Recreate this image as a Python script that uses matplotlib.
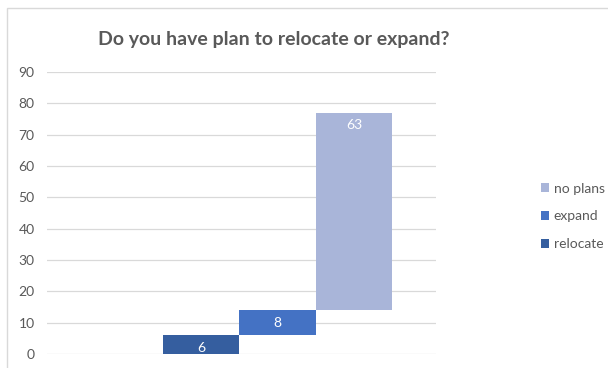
import matplotlib.pyplot as plt
from matplotlib.patches import Rectangle, Patch

# survey answers, drawn as a floating (waterfall style) column chart
categories = ["relocate", "expand", "no plans"]
counts = [6, 8, 63]
colors = ["#355E9F", "#4472C4", "#A9B5D9"]

plt.rcParams["font.family"] = ["Lato", "DejaVu Sans"]
text_gray = "#595959"

fig = plt.figure(figsize=(6.08, 3.68), dpi=100)
W, H = 608, 368

# chart frame
fig.patches.append(Rectangle((7 / W, -0.1), 1.0, (H - 8) / H + 0.1,
                             transform=fig.transFigure, fill=False,
                             edgecolor="#D9D9D9", linewidth=1.0))

ax = fig.add_axes([47 / W, (H - 354) / H, (436 - 47) / W, (354 - 72) / H])

bottoms = []
running = 0
for c in counts:
    bottoms.append(running)
    running += c

xs = list(range(len(categories)))
bars = ax.bar(xs, counts, bottom=bottoms, width=1.0, color=colors,
              linewidth=0, zorder=2)

for x, b, c in zip(xs, bottoms, counts):
    ax.annotate(str(c), (x, b + c), xytext=(0, -12.5), textcoords="offset pixels",
                ha="center", va="center", color="white", fontsize=10)

ax.set_ylim(0, 90)
ax.set_xlim(-2.016, 3.075)
ax.set_yticks(range(0, 91, 10))
ax.set_xticks([])
ax.yaxis.grid(True, color="#D9D9D9", linewidth=0.9, zorder=0)
ax.set_axisbelow(True)
for s in ax.spines.values():
    s.set_visible(False)
ax.tick_params(axis="y", length=0, pad=9, labelcolor=text_gray, labelsize=10)

fig.text(274 / W, (H - 40) / H, "Do you have plan to relocate or expand?",
         ha="center", va="center", fontsize=14, fontweight="bold", color=text_gray)

handles = [Patch(facecolor=colors[i], label=categories[i]) for i in (2, 1, 0)]
fig.legend(handles=handles, loc="upper left", bbox_to_anchor=(528 / W, (H - 170) / H),
           frameon=False, handlelength=0.6, handleheight=0.6, handletextpad=0.35,
           labelspacing=1.15, fontsize=10, labelcolor=text_gray)

fig.savefig("out.png", dpi=100)
